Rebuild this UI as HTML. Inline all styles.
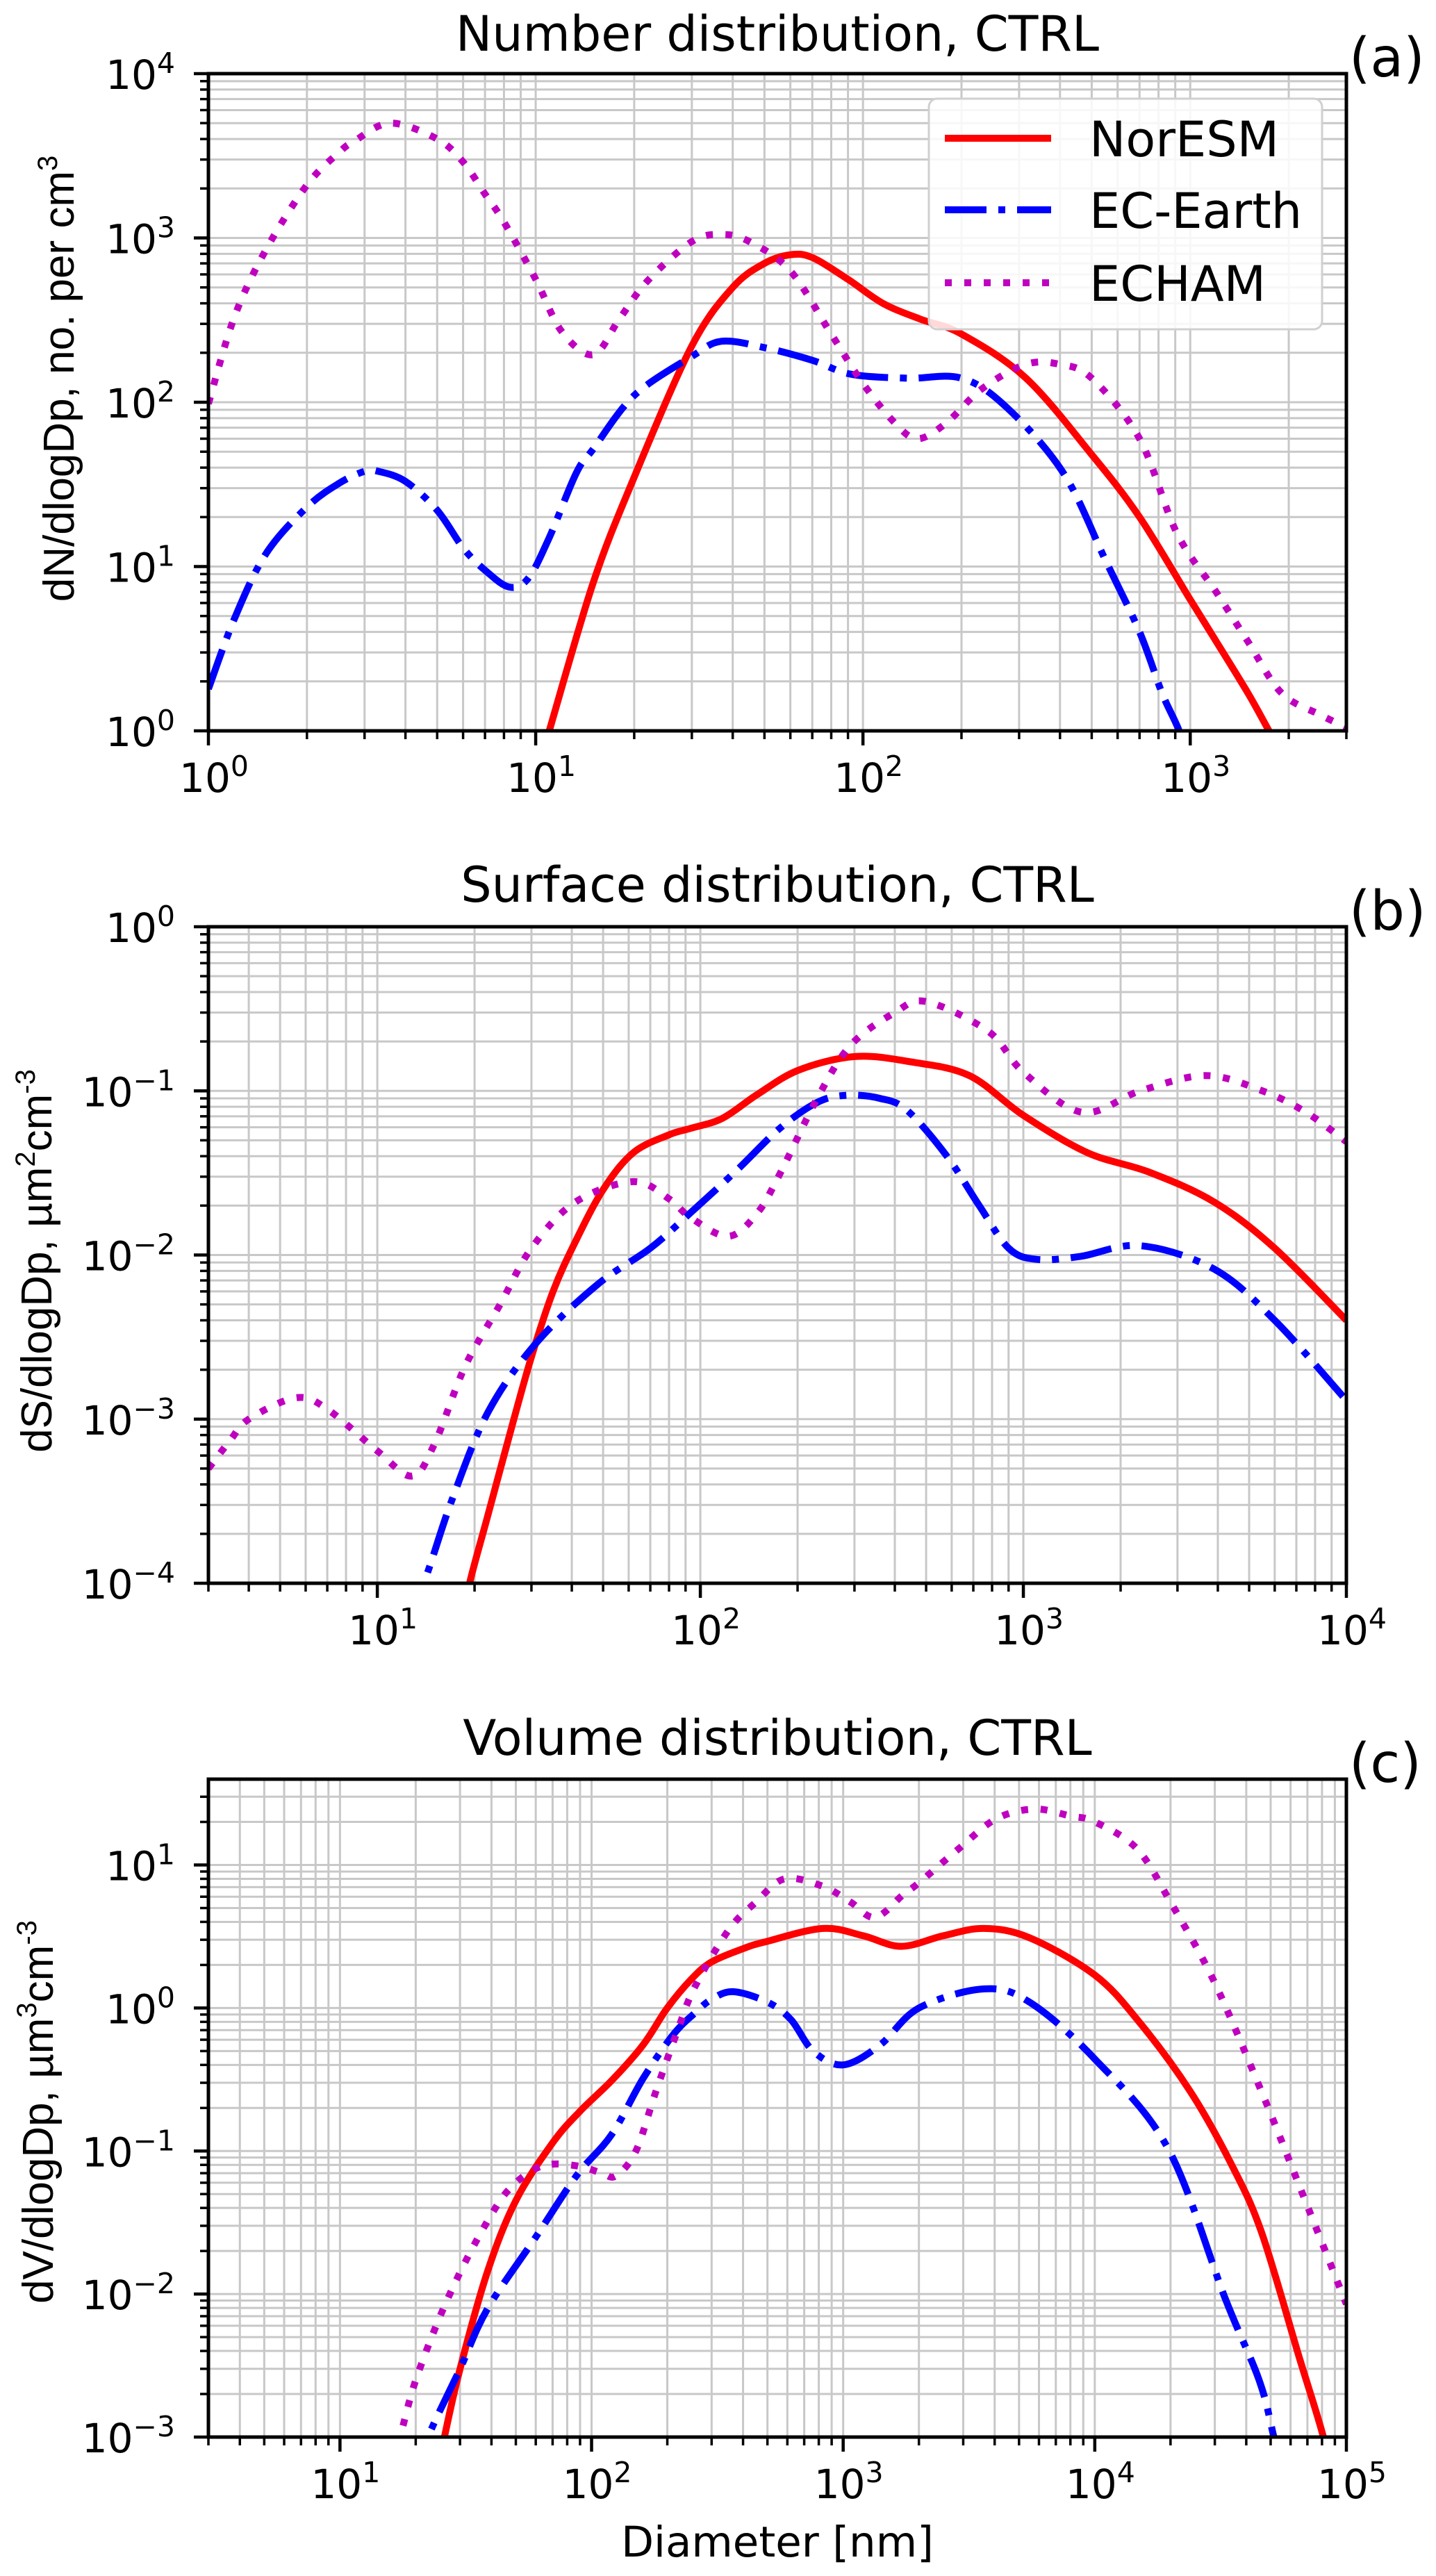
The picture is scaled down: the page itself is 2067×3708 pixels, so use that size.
<!DOCTYPE html>
<html><head><meta charset="utf-8"><style>
html,body{margin:0;padding:0;background:#fff;}
svg{display:block;}
</style></head><body>
<svg id="fig" xmlns="http://www.w3.org/2000/svg" width="2067" height="3708" viewBox="0 0 2067 3708"></svg>
<script>
// ---------- Data (panel a: number distribution) ----------
const aNorX=[11,15,20,30,40,50,60,70,90,115,150,200,315,500,700,1000,1180,1500,1740,2000];
const aNorY=[1,8,35,220,500,700,790,760,560,400,320,260,140,48,20,6.3,3.7,1.7,1.0,0.6];
const aEcX=[1,1.2,1.5,2,2.5,3,3.3,4,5,6,7,8.3,9.5,11,13.3,15,20,30,37,50,70,92,137,200,275,410,550,700,820,925,1000];
const aEcY=[1.8,4.8,12,23,32,38,38,33,22,13,9.5,7.5,8.5,15,37,52,110,190,235,215,180,148,140,140,93,37,11,4,1.7,1.0,0.6];
const aEchX=[1,1.2,1.5,2,2.5,2.8,3.6,5,6,7,8,10,12,15,18,22,30,37,45,60,80,100,125,147,180,230,314,400,500,700,910,1200,1500,1900,2500,3000];
const aEchY=[98,330,850,2100,3300,3900,5000,4000,2900,1850,1250,560,270,195,320,550,950,1050,950,630,260,130,75,60,75,120,170,170,140,60,16,7,3.5,1.7,1.25,1.05];
// ---------- Data (panel b: surface distribution) ----------
const bNorX=[18,19.3,22,26,30,35,41,50,62,80,93,117,150,202,302,450,680,1000,1580,2450,3900,6000,10000];
const bNorY=[5e-5,1e-4,2.6e-4,8.8e-4,2.4e-3,6e-3,0.012,0.025,0.042,0.054,0.059,0.068,0.095,0.134,0.162,0.15,0.124,0.071,0.042,0.032,0.021,0.011,0.004];
const bEcX=[12,13.9,17,22,31,48,70,93,130,176,230,283,360,437,580,730,900,1100,1500,2300,3900,6000,10000];
const bEcY=[6e-5,1e-4,3.2e-4,1.1e-3,2.9e-3,6.6e-3,0.011,0.018,0.033,0.059,0.085,0.094,0.09,0.076,0.04,0.02,0.011,0.0094,0.0098,0.0114,0.0082,0.004,0.0013];
const bEchX=[3,3.5,4,5.6,7,10,12.8,15,18.7,24,30,41,62,80,93,122,150,176,230,292,400,500,780,1000,1520,2300,3670,5500,7500,10000];
const bEchY=[5e-4,7.4e-4,1e-3,1.35e-3,1.15e-3,6.4e-4,4.5e-4,7e-4,2.1e-3,5e-3,0.011,0.021,0.028,0.022,0.017,0.013,0.018,0.031,0.09,0.19,0.3,0.35,0.23,0.13,0.074,0.1,0.124,0.1,0.074,0.049];
// ---------- Data (panel c: volume distribution) ----------
const cNorX=[24,26,30,38.6,50,70,90,120,160,200,250,300,400,490,830,1200,1700,2500,3630,5500,10000,15000,24000,35000,46000,65000,81000,90000];
const cNorY=[5e-4,1e-3,3e-3,0.0144,0.045,0.114,0.19,0.31,0.55,1.0,1.6,2.1,2.6,2.9,3.6,3.2,2.7,3.2,3.6,3.1,1.7,0.8,0.26,0.08,0.027,0.0036,1e-3,4e-4];
const cEcX=[20,22.4,30,38.6,60,87,120,160,211,257,300,365,500,620,760,1000,1400,2000,3630,5500,10000,19500,33000,45000,51500,60000];
const cEcY=[5e-4,1e-3,3e-3,0.0079,0.025,0.067,0.13,0.32,0.65,0.92,1.15,1.3,1.1,0.83,0.5,0.40,0.55,1.0,1.36,1.1,0.44,0.105,0.0093,0.0025,1e-3,3e-4];
const cEchX=[17.8,20,25,31.6,40,47,58,70,90,110,125,150,180,220,257,350,450,585,830,1070,1340,1730,2000,2880,4050,5750,8000,10000,14700,20000,29700,46000,67000,100000];
const cEchY=[1.2e-3,2.5e-3,7e-3,0.017,0.036,0.054,0.073,0.081,0.078,0.07,0.067,0.1,0.26,0.7,1.4,3.5,5.5,8,7.1,5.5,4.3,6.2,7.5,13,21,24.6,22,20,13,5.5,1.55,0.26,0.05,0.0085];
// ---------- Tick labels ----------
const aXTicks=["0","1","2","3"];
const aYTicks=["0","1","2","3","4"];
const bXTicks=["1","2","3","4"];
const bYTicks=["\u22124","\u22123","\u22122","\u22121","0"];
const cXTicks=["1","2","3","4","5"];
const cYTicks=["\u22123","\u22122","\u22121","0","1"];
const legendLabels=["NorESM","EC-Earth","ECHAM"];

const NS="http://www.w3.org/2000/svg";
const svg=document.getElementById('fig');
const RED="#ff0000",BLUE="#0000ff",MAG="#bf00bf";
const DASHDOT="60 17 10 17",DOT="10 18";
function mk(tag,attrs,parent){const e=document.createElementNS(NS,tag);for(const k in attrs)e.setAttribute(k,attrs[k]);(parent||svg).appendChild(e);return e;}
function smooth(pts){
  let d='M'+pts[0][0].toFixed(1)+','+pts[0][1].toFixed(1);
  for(let i=0;i<pts.length-1;i++){
    const p0=pts[i-1]||pts[i],p1=pts[i],p2=pts[i+1],p3=pts[i+2]||pts[i+1];
    const c1x=p1[0]+(p2[0]-p0[0])/6,c1y=p1[1]+(p2[1]-p0[1])/6;
    const c2x=p2[0]-(p3[0]-p1[0])/6,c2y=p2[1]-(p3[1]-p1[1])/6;
    d+=' C'+c1x.toFixed(1)+','+c1y.toFixed(1)+' '+c2x.toFixed(1)+','+c2y.toFixed(1)+' '+p2[0].toFixed(1)+','+p2[1].toFixed(1);
  }
  return d;
}
function tickText(g,x,y,exp,anchor,name){
  const t=mk('text',{x:x,y:y,'text-anchor':anchor,'font-family':'DejaVu Sans, sans-serif','font-size':58,fill:'#000'},g);
  
  
  t.appendChild(document.createTextNode('10'));
  const s=mk('tspan',{dy:-23,'font-size':41},t);
  s.textContent=exp;
}
function panel(P){
  const g=mk('g',{});
  
  
  const sx=v=>P.L+(Math.log10(v)-P.x0)/(P.x1-P.x0)*(P.R-P.L);
  const sy=v=>P.B-(Math.log10(v)-P.y0)/(P.y1-P.y0)*(P.B-P.T);
  const grid=mk('g',{stroke:'#c8c8c8','stroke-width':3},g);
  
  
  for(let d=Math.floor(P.x0);d<=Math.ceil(P.x1);d++)for(let k=1;k<10;k++){const v=k*Math.pow(10,d);const lv=Math.log10(v);if(lv<P.x0-1e-6||lv>P.x1+1e-6)continue;const x=sx(v);mk('line',{x1:x,x2:x,y1:P.T,y2:P.B},grid);}
  for(let d=Math.floor(P.y0);d<=Math.ceil(P.y1);d++)for(let k=1;k<10;k++){const v=k*Math.pow(10,d);const lv=Math.log10(v);if(lv<P.y0-1e-6||lv>P.y1+1e-6)continue;const y=sy(v);mk('line',{x1:P.L,x2:P.R,y1:y,y2:y},grid);}
  const cp=mk('clipPath',{id:P.id+'clip'},g);
  mk('rect',{x:P.L,y:P.T,width:P.R-P.L,height:P.B-P.T},cp);
  const lines=mk('g',{'clip-path':'url(#'+P.id+'clip)',fill:'none','stroke-width':10},g);
  P.series.forEach(s=>{
    const pts=s.x.map((v,i)=>[sx(v),sy(s.y[i])]);
    const p=mk('path',{d:smooth(pts),stroke:s.color,'stroke-dasharray':s.dash||'none','stroke-linecap':'butt','stroke-linejoin':'round'},lines);
    
    
  });
  const sp=mk('rect',{x:P.L,y:P.T,width:P.R-P.L,height:P.B-P.T,fill:'none',stroke:'#000','stroke-width':5},g);
  
  
  const tk=mk('g',{stroke:'#000'},g);
  
  
  for(let d=Math.floor(P.x0);d<=Math.ceil(P.x1);d++)for(let k=1;k<10;k++){const v=k*Math.pow(10,d);const lv=Math.log10(v);if(lv<P.x0-1e-6||lv>P.x1+1e-6)continue;const x=sx(v);const len=k==1?21:12;mk('line',{x1:x,x2:x,y1:P.B,y2:P.B+len,'stroke-width':k==1?4.5:3.5},tk);}
  for(let d=Math.floor(P.y0);d<=Math.ceil(P.y1);d++)for(let k=1;k<10;k++){const v=k*Math.pow(10,d);const lv=Math.log10(v);if(lv<P.y0-1e-6||lv>P.y1+1e-6)continue;const y=sy(v);const len=k==1?21:12;mk('line',{x1:P.L,x2:P.L-len,y1:y,y2:y,'stroke-width':k==1?4.5:3.5},tk);}
  P.xt.forEach(e=>{const v=Math.pow(10,parseFloat(e.replace('\u2212','-')));tickText(g,sx(v)+8,P.B+88,e,'middle','x-tick-label');});
  P.yt.forEach(e=>{const v=Math.pow(10,parseFloat(e.replace('\u2212','-')));tickText(g,252,sy(v)+22,e,'end','y-tick-label');});
  const ti=mk('text',{x:(P.L+P.R)/2,y:P.titleY,'text-anchor':'middle','font-family':'DejaVu Sans, sans-serif','font-size':70},g);
  
  
  ti.textContent=P.title;
  const pl=mk('text',{x:1942,y:P.T+4,'font-family':'DejaVu Sans, sans-serif','font-size':78},g);
  
  
  pl.textContent=P.plabel;
  const yl=mk('text',{transform:'translate('+P.ylx+','+P.ylc+') rotate(-90)','text-anchor':'middle','font-family':'Liberation Sans, Arial, sans-serif','font-size':62},g);
  
  
  P.ylabel.forEach(part=>{const ts=mk('tspan',part[1]?{'font-size':40,dy:-24}:{dy:part[2]||0},yl);ts.textContent=part[0];});
  return {g,sx,sy};
}
panel({name:'number-distribution-panel',id:'a',L:300,R:1938,T:106,B:1052,x0:0,x1:Math.log10(3000),y0:0,y1:4,
  title:'Number distribution, CTRL',titleY:73,plabel:'(a)',xt:aXTicks,yt:aYTicks,ylx:106,ylc:545,
  ylabel:[['dN/dlogDp, no. per cm',false],['3',true]],
  series:[{name:'noresm-line',x:aNorX,y:aNorY,color:RED},{name:'ec-earth-line',x:aEcX,y:aEcY,color:BLUE,dash:DASHDOT},{name:'echam-line',x:aEchX,y:aEchY,color:MAG,dash:DOT}]});
panel({name:'surface-distribution-panel',id:'b',L:300,R:1938,T:1334,B:2279,x0:Math.log10(3),x1:4,y0:-4,y1:0,
  title:'Surface distribution, CTRL',titleY:1298,plabel:'(b)',xt:bXTicks,yt:bYTicks,ylx:74,ylc:1815,
  ylabel:[['dS/dlogDp, \u00b5m',false],['2',true],['cm',false,24],['-3',true]],
  series:[{name:'noresm-line',x:bNorX,y:bNorY,color:RED},{name:'ec-earth-line',x:bEcX,y:bEcY,color:BLUE,dash:DASHDOT},{name:'echam-line',x:bEchX,y:bEchY,color:MAG,dash:DOT}]});
panel({name:'volume-distribution-panel',id:'c',L:300,R:1938,T:2561,B:3508,x0:Math.log10(3),x1:5,y0:-3,y1:1+0.6,
  title:'Volume distribution, CTRL',titleY:2526,plabel:'(c)',xt:cXTicks,yt:cYTicks,ylx:76,ylc:3040,
  ylabel:[['dV/dlogDp, \u00b5m',false],['3',true],['cm',false,24],['-3',true]],
  series:[{name:'noresm-line',x:cNorX,y:cNorY,color:RED},{name:'ec-earth-line',x:cEcX,y:cEcY,color:BLUE,dash:DASHDOT},{name:'echam-line',x:cEchX,y:cEchY,color:MAG,dash:DOT}]});
const xl=mk('text',{x:1119,y:3680,'text-anchor':'middle','font-family':'DejaVu Sans, sans-serif','font-size':61});


xl.textContent='Diameter [nm]';
const lg=mk('g',{});


mk('rect',{x:1337,y:142,width:566,height:332,rx:12,fill:'#fff','fill-opacity':0.85,stroke:'#d0d0d0','stroke-width':3},lg);
const legColors=[RED,BLUE,MAG],legDash=['none',DASHDOT,DOT],legY=[199,302,407];
legendLabels.forEach((lab,i)=>{
  const e=mk('g',{},lg);
  
  
  mk('line',{x1:1360,x2:1513,y1:legY[i],y2:legY[i],stroke:legColors[i],'stroke-width':10,'stroke-dasharray':legDash[i]},e);
  const t=mk('text',{x:1568,y:legY[i]+26,'font-family':'DejaVu Sans, sans-serif','font-size':70},e);
  t.textContent=lab;
});
</script>
</body></html>
